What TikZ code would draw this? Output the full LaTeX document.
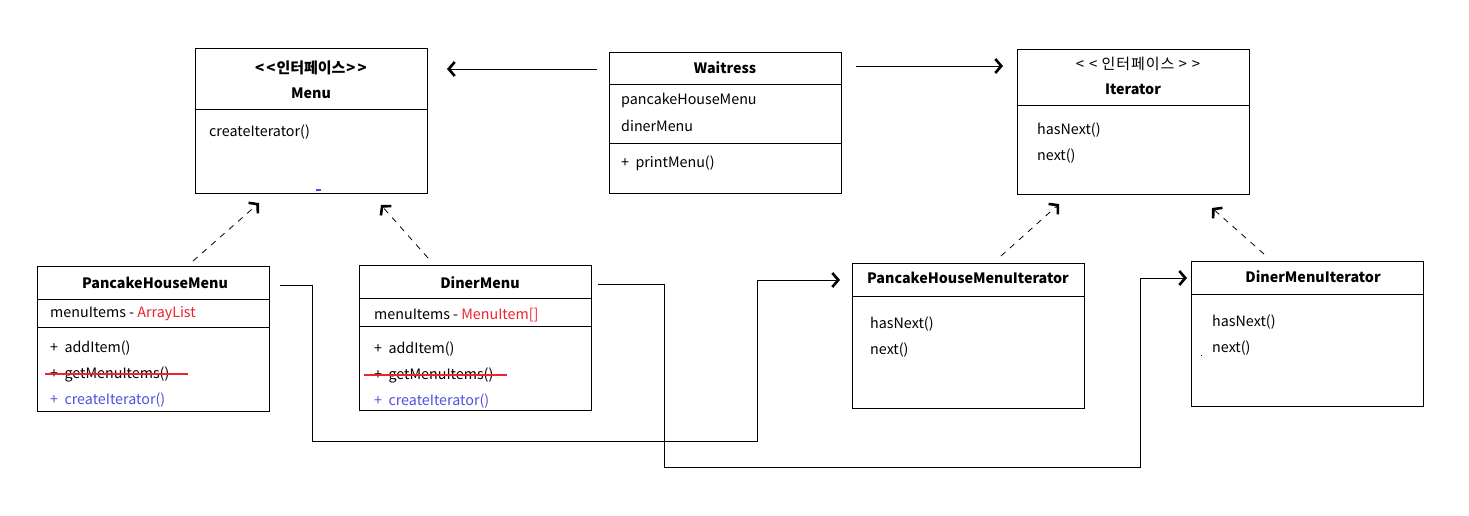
\documentclass[tikz,border=0pt]{standalone}
\usepackage{fontspec}
\setmainfont{Noto Sans CJK KR}
\usetikzlibrary{arrows.meta}
\definecolor{umlred}{RGB}{237,35,45}
\definecolor{umlblue}{RGB}{80,80,225}
\begin{document}
\begin{tikzpicture}[x=1pt,y=-1pt,
  box/.style={draw, line width=1pt, anchor=north west, inner sep=0pt, minimum width=232pt, minimum height=145pt},
  lbl/.style={anchor=west, inner sep=0pt, font=\fontsize{14.3}{16}\selectfont},
  ttl/.style={inner sep=0pt, font=\fontsize{14.3}{16}\selectfont\bfseries},
  ster/.style={inner sep=0pt, font=\fontsize{15}{17}\selectfont},
  sep/.style={line width=1pt},
  tip/.style={-{Straight Barb[length=6pt,width=14pt,line width=2.6pt 0]}},
  dep/.style={tip, line width=0.8pt, dash pattern=on 6pt off 6pt},
  conn/.style={line width=1pt},
  strike/.style={draw=umlred, line width=1.2pt}]
\useasboundingbox (0,0) rectangle (1469,515);

% Menu
\node[box] (menu) at (195,48) {};
\draw[sep] (195,109) -- (427,109);
\node[ster, font=\fontsize{15}{17}\selectfont\bfseries] (menuS) at (311,68) {<\kern2pt<\kern1pt인터페이스\kern1pt>\kern2pt>};
\node[ttl] (menuT) at (311,93) {Menu};
\node[lbl] (menuM) at (209,132) {createIterator()};
\fill[umlblue] (316,189) rectangle (321,190.5);

% Waitress
\node[box, minimum height=141pt] (wait) at (609,52) {};
\draw[sep] (609,84) -- (841,84);
\draw[sep] (609,143) -- (841,143);
\node[ttl] (waitT) at (725,68) {Waitress};
\node[lbl] (waitA) at (621,100) {pancakeHouseMenu};
\node[lbl] (waitB) at (621,126) {dinerMenu};
\node[lbl] (waitC) at (621,163) {+~~printMenu()};

% Iterator
\node[box] (iter) at (1017,49) {};
\draw[sep] (1017,105) -- (1249,105);
\node[ster] (iterS) at (1138,64) {<\kern5pt<\kern4pt인\kern1pt터\kern1pt페\kern1pt이\kern1pt스\kern4pt>\kern5pt>};
\node[ttl] (iterT) at (1133,89) {Iterator};
\node[lbl] (iterA) at (1037,130) {hasNext()};
\node[lbl] (iterB) at (1037,156) {next()};

% PancakeHouseMenu
\node[box] (phm) at (37,266) {};
\draw[sep] (37,299) -- (269,299);
\draw[sep] (37,327) -- (269,327);
\node[ttl] (phmT) at (155,283) {PancakeHouseMenu};
\node[lbl] (phmA) at (50,314) {menuItems - \textcolor{umlred}{ArrayList}};
\node[lbl] (phmB) at (50,348) {+~~addItem()};
\node[lbl] (phmC) at (50,374) {+~~getMenuItems()};
\node[lbl, text=umlblue] (phmD) at (50,400) {+~~createIterator()};
\draw[strike] (45,374) -- (188,374);

% DinerMenu
\node[box] (dm) at (359,265) {};
\draw[sep] (359,298) -- (591,298);
\draw[sep] (359,326) -- (591,326);
\node[ttl] (dmT) at (480,283) {DinerMenu};
\node[lbl] (dmA) at (374,315) {menuItems - \textcolor{umlred}{MenuItem[]}};
\node[lbl] (dmB) at (374,349) {+~~addItem()};
\node[lbl] (dmC) at (374,375) {+~~getMenuItems()};
\node[lbl, text=umlblue] (dmD) at (374,401) {+~~createIterator()};
\draw[strike] (364,375) -- (507,375);

% PancakeHouseMenuIterator
\node[box] (phmi) at (852,263) {};
\draw[sep] (852,296) -- (1084,296);
\node[ttl] (phmiT) at (968,278) {PancakeHouseMenuIterator};
\node[lbl] (phmiA) at (870,324) {hasNext()};
\node[lbl] (phmiB) at (870,350) {next()};

% DinerMenuIterator
\node[box] (dmi) at (1191,261) {};
\draw[sep] (1191,294) -- (1423,294);
\node[ttl] (dmiT) at (1313,277) {DinerMenuIterator};
\node[lbl] (dmiA) at (1212,322) {hasNext()};
\node[lbl] (dmiB) at (1212,348) {next()};
\fill (1200.5,354.5) rectangle (1201.5,355.5);

% connector end points
\coordinate (wmS) at (597,69);
\coordinate (wmE) at (447,69);
\coordinate (wiS) at (856,66);
\coordinate (wiE) at (1003,66);
\coordinate (d1S) at (193,261);
\coordinate (d1E) at (259,203);
\coordinate (d2S) at (428,258);
\coordinate (d2E) at (381,205);
\coordinate (d3S) at (1001,256);
\coordinate (d3E) at (1059,204);
\coordinate (d4S) at (1264,254);
\coordinate (d4E) at (1212,208);
\coordinate (p1) at (280,285);
\coordinate (p2) at (840,280);
\coordinate (q1) at (598,284);
\coordinate (q2) at (1187,278);

% associations
\draw[conn, tip] (wmS) -- (wmE);
\draw[conn, tip] (wiS) -- (wiE);

% realizations
\draw[dep] (d1S) -- (d1E);
\draw[dep] (d2S) -- (d2E);
\draw[dep] (d3S) -- (d3E);
\draw[dep] (d4S) -- (d4E);

% createIterator links
\draw[conn, tip] (p1) -- (312,285) -- (312,441) -- (757,441) -- (757,280) -- (p2);
\draw[conn, tip] (q1) -- (664,284) -- (664,467) -- (1140,467) -- (1140,278) -- (q2);
\end{tikzpicture}
\end{document}
